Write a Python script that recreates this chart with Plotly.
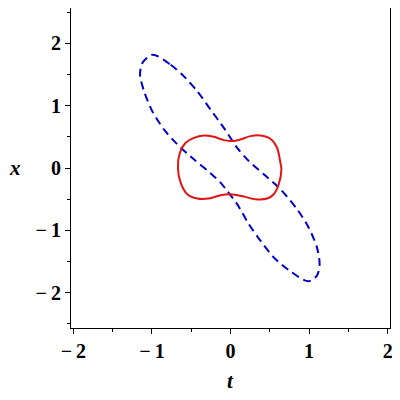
import plotly.graph_objects as go

# blue dashed loop (t, x), closed
blue_t = [-0.99, -0.762, -0.593, -0.423, -0.254, -0.085, 0.085, 0.233, 0.423, 0.635,
          0.847, 0.994, 1.10, 1.134, 1.10, 0.99, 0.762, 0.55, 0.381, 0.233,
          0.085, -0.042, -0.127, -0.296, -0.466, -0.677, -0.847, -0.995, -1.10, -1.151,
          -1.122, -0.99]
blue_x = [1.82, 1.659, 1.472, 1.232, 0.939, 0.645, 0.325, 0.112, -0.101, -0.341,
          -0.661, -0.955, -1.275, -1.541, -1.728, -1.82, -1.659, -1.435, -1.168, -0.901,
          -0.581, -0.368, -0.235, -0.037, 0.139, 0.379, 0.619, 0.912, 1.232, 1.499,
          1.685, 1.82]

# red solid peanut, closed
red_t = [-0.669, -0.644, -0.571, -0.466, -0.339, -0.212, -0.085, 0.021, 0.127, 0.254,
         0.381, 0.508, 0.593, 0.635, 0.648, 0.614, 0.55, 0.466, 0.317, 0.169,
         0.0, -0.127, -0.275, -0.423, -0.55, -0.635, -0.669]
red_x = [0.0, 0.245, 0.405, 0.485, 0.523, 0.501, 0.448, 0.432, 0.459, 0.512,
         0.523, 0.469, 0.325, 0.085, -0.02, -0.261, -0.421, -0.491, -0.501, -0.459,
         -0.421, -0.437, -0.491, -0.491, -0.421, -0.235, 0.0]

major_ticks = [-2, -1, 0, 1, 2]
major_labels = ["<b>\u2212\u20092</b>", "<b>\u2212\u20091</b>", "<b>0</b>", "<b>1</b>", "<b>2</b>"]

fig = go.Figure()
fig.add_trace(go.Scatter(x=blue_t, y=blue_x, mode="lines",
                         line=dict(color="#0000cc", width=2, dash="8px,5px", shape="spline", smoothing=0.8),
                         showlegend=False, hoverinfo="skip"))
fig.add_trace(go.Scatter(x=red_t, y=red_x, mode="lines",
                         line=dict(color="#e01515", width=2, shape="spline", smoothing=0.8),
                         showlegend=False, hoverinfo="skip"))

tickfont = dict(family="Liberation Serif", size=20, color="black")
axis_common = dict(
    showgrid=False, zeroline=False, showline=True, linecolor="black", linewidth=1,
    mirror=True, ticks="outside", ticklen=5, tickcolor="black", tickwidth=1,
    tickvals=major_ticks, ticktext=major_labels, tickfont=tickfont, automargin=False,
    minor=dict(dtick=0.5, ticks="outside", ticklen=3, tickcolor="black"),
)
fig.update_xaxes(range=[-2.03, 2.03], **axis_common)
fig.update_yaxes(range=[-2.57, 2.57], **axis_common)

labfont = dict(family="Liberation Serif", size=21, color="black")
fig.add_annotation(text="<b><i>t</i></b>", x=0.5, y=-0.165, xref="paper", yref="paper",
                   xanchor="center", yanchor="middle", showarrow=False, font=labfont)
fig.add_annotation(text="<b><i>x</i></b>", x=-0.175, y=0.5, xref="paper", yref="paper",
                   xanchor="center", yanchor="middle", showarrow=False, font=labfont)

# the page body adds an 8px margin, so the figure is made 8px smaller
fig.update_layout(
    width=392, height=392,
    margin=dict(l=63, r=10, t=0, b=72),
    plot_bgcolor="white", paper_bgcolor="white",
)
fig.write_html("out.html")
